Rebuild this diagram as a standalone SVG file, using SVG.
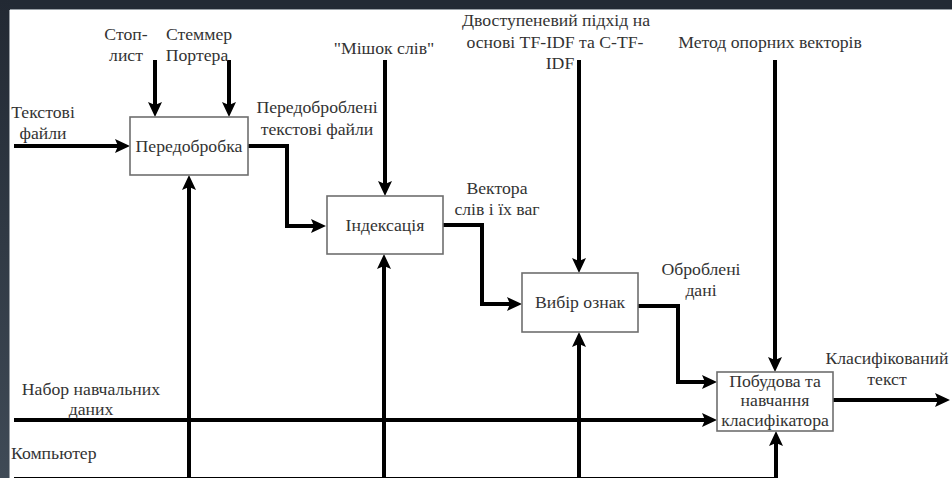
<svg xmlns="http://www.w3.org/2000/svg" width="952" height="478" viewBox="0 0 952 478">
<defs>
<linearGradient id="lb" x1="0" y1="0" x2="0" y2="1">
<stop offset="0" stop-color="#222933"/>
<stop offset="1" stop-color="#3f4a56"/>
</linearGradient>
<marker id="ah" viewBox="0 0 15 14" refX="7" refY="7" markerWidth="15" markerHeight="14" markerUnits="userSpaceOnUse" orient="auto">
<path d="M0,0 L15,7 L0,14 L3,7 z" fill="#000"/>
</marker>
</defs>
<style>
.box{fill:#fff;stroke:#6e6e6e;stroke-width:1.6}
.c{fill:none;stroke:#000;stroke-width:4;stroke-linejoin:miter}
.a{marker-end:url(#ah)}
.m{text-anchor:middle}
text{font-family:"Liberation Serif","Times New Roman",serif;font-size:17.7px;fill:#333}
</style>
<rect x="0" y="0" width="952" height="478" fill="#fff"/>
<rect x="0" y="0" width="952" height="10" fill="#232a34"/>
<rect x="0" y="0" width="10" height="478" fill="url(#lb)"/>
<line x1="10" y1="9.5" x2="952" y2="9.5" stroke="#9aa0a6" stroke-width="1"/>
<line x1="9.5" y1="10" x2="9.5" y2="478" stroke="#9aa0a6" stroke-width="1"/>

<g id="connectors">
<path class="c a" d="M14,146 H122"/>
<path class="c a" d="M155,60 V109"/>
<path class="c a" d="M229,60 V109"/>
<path class="c a" d="M248,146 H287 V226 H318"/>
<path class="c a" d="M385,60 V188"/>
<path class="c a" d="M443,225 H482 V304 H514"/>
<path class="c a" d="M579,60 V265"/>
<path class="c a" d="M638,306 H678 V382 H709"/>
<path class="c a" d="M775,60 V364"/>
<path class="c a" d="M14,420 H709"/>
<path class="c a" d="M833,400 H942"/>
<path class="c a" d="M189,478 V183"/>
<path class="c a" d="M384,478 V262"/>
<path class="c a" d="M579,478 V340"/>
<path class="c a" d="M776,478 V439"/>
<path class="c" d="M14,479 H778"/>
</g>

<g id="node-peredobrobka">
<rect class="box" x="130" y="117" width="118" height="58"/>
<text class="m" x="189" y="152">Передобробка</text>
</g>
<g id="node-indeksatsiia">
<rect class="box" x="327" y="196" width="116" height="58"/>
<text class="m" x="385" y="231">Індексація</text>
</g>
<g id="node-vybir">
<rect class="box" x="522" y="273" width="116" height="59"/>
<text class="m" x="580" y="308">Вибір ознак</text>
</g>
<g id="node-pobudova">
<rect class="box" x="717" y="372" width="116" height="59"/>
<text class="m" x="775" y="387">Побудова та</text>
<text class="m" x="775" y="406">навчання</text>
<text class="m" x="775" y="426">класифікатора</text>
</g>

<g id="labels">
<text class="m" x="126" y="40">Стоп-</text>
<text class="m" x="126" y="61">лист</text>
<text class="m" x="199" y="40">Стеммер</text>
<text class="m" x="197" y="61">Портера</text>
<text class="m" x="384" y="54">"Мішок слів"</text>
<text class="m" x="556" y="26">Двоступеневий підхід на</text>
<text class="m" x="555" y="48">основі TF-IDF та C-TF-</text>
<text class="m" x="560" y="69">IDF</text>
<text class="m" x="770" y="48">Метод опорних векторів</text>
<text class="m" x="43" y="118">Текстові</text>
<text class="m" x="43" y="139">файли</text>
<text class="m" x="317" y="113">Передоброблені</text>
<text class="m" x="317" y="135">текстові файли</text>
<text class="m" x="497" y="194">Вектора</text>
<text class="m" x="497" y="215">слів і їх ваг</text>
<text class="m" x="701" y="275">Оброблені</text>
<text class="m" x="701" y="296">дані</text>
<text class="m" x="887" y="364">Класифікований</text>
<text class="m" x="887" y="385">текст</text>
<text class="m" x="91" y="395">Набор навчальних</text>
<text class="m" x="91" y="415">даних</text>
<text x="11" y="459">Компьютер</text>
</g>
</svg>
